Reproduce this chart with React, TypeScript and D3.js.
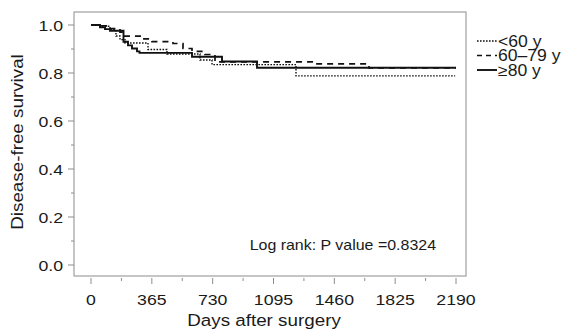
import React from "react";
import * as d3 from "d3";

// Kaplan–Meier step data (day, survival)
const under60Days = [0, 54, 114, 150, 174, 204, 342, 456, 654, 726, 1230, 2185];
const under60Surv = [1.0, 0.995, 0.98, 0.954, 0.939, 0.925, 0.898, 0.879, 0.854, 0.835, 0.788, 0.788];

const mid60Days = [0, 60, 102, 174, 198, 306, 366, 492, 552, 606, 684, 744, 1344, 1668, 2190];
const mid60Surv = [1.0, 0.996, 0.985, 0.97, 0.954, 0.942, 0.931, 0.923, 0.902, 0.89, 0.877, 0.846, 0.838, 0.821, 0.821];

const over80Days = [0, 54, 84, 114, 195, 222, 246, 276, 291, 606, 786, 996, 2190];
const over80Surv = [1.0, 0.99, 0.983, 0.976, 0.93, 0.915, 0.902, 0.89, 0.884, 0.868, 0.848, 0.822, 0.822];

const xTicks = [0, 365, 730, 1095, 1460, 1825, 2190];
const yTicks = [0, 0.2, 0.4, 0.6, 0.8, 1.0];
const legendLabels = ["<60 y", "60\u201379 y", "\u226580 y"];
const pValueText = "Log rank: P value =0.8324";

const FONT = "'Liberation Sans', Arial, Helvetica, sans-serif";
const SX = 1.14;
const TEXT = "#1a1a1a";
const GREY = "#8c8c8c";

function SText({ x, y, size, anchor = "start", rotate = 0, sx = SX, children }: any) {
  return (
    <text
      transform={`translate(${x},${y}) rotate(${rotate}) scale(${sx},1)`}
      fontSize={size}
      fontFamily={FONT}
      fill={TEXT}
      textAnchor={anchor}
    >
      {children}
    </text>
  );
}

export default function App() {
  const W = 566, H = 333;
  const box = { l: 74, r: 466, t: 12, b: 276 };
  const x = d3.scaleLinear().domain([0, 2190]).range([91, 456]);
  const y = d3.scaleLinear().domain([0, 1]).range([265, 25]);

  const line = d3
    .line<[number, number]>()
    .x((d) => x(d[0]))
    .y((d) => y(d[1]))
    .curve(d3.curveStepAfter);

  const series = [
    { days: under60Days, surv: under60Surv, dash: "1.6,1.4", width: 1.4 },
    { days: mid60Days, surv: mid60Surv, dash: "6,5", width: 1.7 },
    { days: over80Days, surv: over80Surv, dash: null, width: 1.9 },
  ];

  const legendDash = ["1.6,1.4", "5,4", null];
  const legendW = [1.4, 1.7, 1.9];
  const legendY = [41, 55.5, 70];

  const xMinor = d3.range(0, 2190 + 1, 182.5);
  const yMinor = d3.range(0, 1.0001, 0.1);

  return (
    <svg width={W} height={H} style={{ position: "absolute", left: 0, top: 0 }}>
      <rect x={0} y={0} width={W} height={H} fill="#fff" />
      <rect
        x={box.l}
        y={box.t}
        width={box.r - box.l}
        height={box.b - box.t}
        fill="none"
        stroke={GREY}
        strokeWidth={1}
      />
      {/* y axis ticks */}
      {yMinor.map((v, i) => (
        <line
          key={"ym" + i}
          x1={i % 2 === 0 ? 68 : 71}
          x2={box.l}
          y1={y(v)}
          y2={y(v)}
          stroke={GREY}
          strokeWidth={1}
        />
      ))}
      {yTicks.map((v) => (
        <SText key={"yl" + v} x={63} y={y(v) + 5.5} size={15.5} anchor="end">
          {v.toFixed(1)}
        </SText>
      ))}
      {/* x axis ticks */}
      {xMinor.map((v, i) => (
        <line
          key={"xm" + i}
          x1={x(v)}
          x2={x(v)}
          y1={278}
          y2={i % 2 === 0 ? 284 : 281}
          stroke={GREY}
          strokeWidth={1}
        />
      ))}
      {xTicks.map((v) => (
        <SText key={"xl" + v} x={x(v)} y={305} size={15.5} anchor="middle">
          {String(v)}
        </SText>
      ))}
      <SText x={264} y={326} size={16.5} anchor="middle">
        Days after surgery
      </SText>
      <SText x={23} y={142} size={16.5} anchor="middle" rotate={-90}>
        Disease-free survival
      </SText>

      {/* curves */}
      {series.map((s, i) => {
        const pts: [number, number][] = s.days.map((d, j) => [d, s.surv[j]]);
        return (
          <path
            key={"c" + i}
            d={line(pts) || ""}
            fill="none"
            stroke="#111"
            strokeWidth={s.width}
            strokeDasharray={s.dash || undefined}
          />
        );
      })}

      <SText x={436} y={250} size={14} anchor="end">
        {pValueText}
      </SText>

      {/* legend */}
      {legendLabels.map((lab, i) => (
        <g key={"lg" + i}>
          <line
            x1={477}
            x2={497}
            y1={legendY[i]}
            y2={legendY[i]}
            stroke="#111"
            strokeWidth={legendW[i]}
            strokeDasharray={legendDash[i] || undefined}
          />
          <SText x={498} y={legendY[i] + 5.5} size={16} sx={1.1}>
            {lab}
          </SText>
        </g>
      ))}
    </svg>
  );
}
